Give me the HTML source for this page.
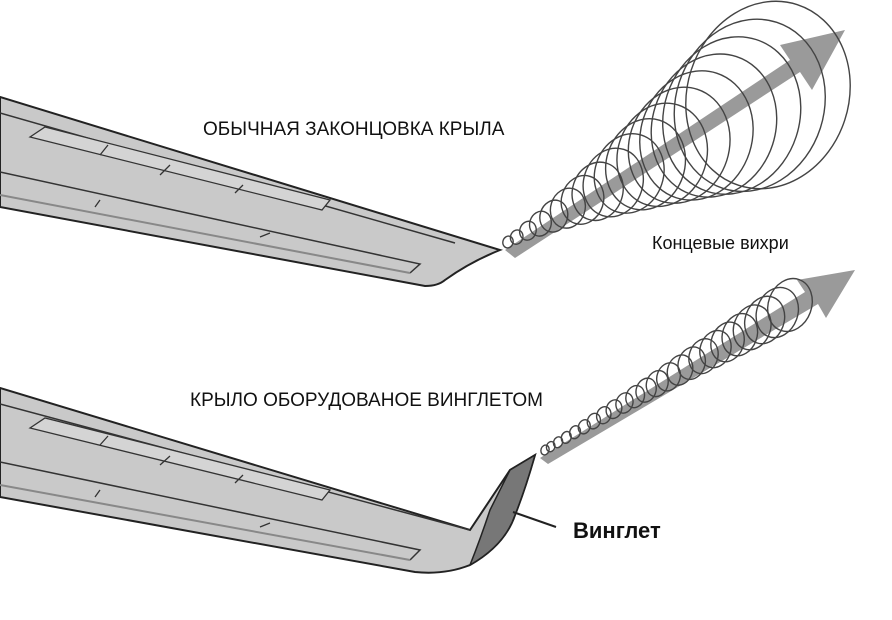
<!DOCTYPE html>
<html><head><meta charset="utf-8"><style>
html,body{margin:0;padding:0;background:#fff;}
svg{display:block}
text{font-family:"Liberation Sans","DejaVu Sans",sans-serif;fill:#111}
</style></head><body>
<svg id="s" width="892" height="620" viewBox="0 0 892 620" xmlns="http://www.w3.org/2000/svg">
<rect width="892" height="620" fill="#fff"/>
<!-- top wing -->
<path d="M0,97 L500,250 Q470,262 445,280 Q438,286 425,286 L0,207 Z" fill="#c9c9c9" stroke="#222" stroke-width="2"/>
<path d="M0,113 L455,243" stroke="#333" stroke-width="1.5" fill="none"/>
<path d="M0,172 L420,264 L410,273" stroke="#333" stroke-width="1.5" fill="none"/>
<path d="M0,195 L410,273" stroke="#888" stroke-width="2" fill="none"/>
<path d="M30,137 L45,127 L330,200 L322,210 Z" fill="#d4d4d4" stroke="#333" stroke-width="1.3"/>
<path d="M100,155 L108,145 M160,175 L170,165 M235,193 L243,185" stroke="#333" stroke-width="1.3"/>
<path d="M95,207 L100,200 M260,237 L270,233" stroke="#333" stroke-width="1.3"/>
<!-- bottom wing -->
<path d="M0,388 L470,530 Q490,500 510,470 L535,455 Q525,490 515,515 Q505,545 470,565 Q445,575 415,572 L0,497 Z" fill="#c9c9c9" stroke="#222" stroke-width="2"/>
<path d="M510,470 L535,455 Q525,490 515,515 Q505,545 470,565 Q480,540 490,510 Z" fill="#777" stroke="#222" stroke-width="1.5"/>
<path d="M0,404 L470,530" stroke="#333" stroke-width="1.5" fill="none"/>
<path d="M0,462 L420,550 L410,560" stroke="#333" stroke-width="1.5" fill="none"/>
<path d="M0,485 L410,560" stroke="#888" stroke-width="2" fill="none"/>
<path d="M30,428 L45,418 L330,490 L322,500 Z" fill="#d4d4d4" stroke="#333" stroke-width="1.3"/>
<path d="M100,445 L108,436 M160,465 L170,456 M235,483 L243,475" stroke="#333" stroke-width="1.3"/>
<path d="M95,497 L100,490 M260,527 L270,523" stroke="#333" stroke-width="1.3"/>
<path d="M513,512 L556,527" stroke="#222" stroke-width="2"/>
<!-- arrows -->
<polygon points="505,250 790,60 780,45 845,30 812,90 800,72 515,258" fill="#9a9a9a"/>
<polygon points="540,458 805,292 797,280 855,270 826,318 818,304 548,464" fill="#9a9a9a"/>
<g id="v1" fill="none" stroke="#444" stroke-width="1.4"></g>
<text x="203" y="135" font-size="19">ОБЫЧНАЯ ЗАКОНЦОВКА КРЫЛА</text>
<text x="652" y="249" font-size="18">Концевые вихри</text>
<text x="190" y="406" font-size="19">КРЫЛО ОБОРУДОВАНОЕ ВИНГЛЕТОМ</text>
<text x="573" y="538" font-size="22" font-weight="bold">Винглет</text>
</svg>
<script>
var g=document.getElementById('v1'),ns='http://www.w3.org/2000/svg';
function spiral(x0,y0,x1,y1,r0,r1,n,ang,asp){
 for(var i=0;i<n;i++){var t=i/(n-1);var e=document.createElementNS(ns,'ellipse');
 var tt=Math.pow(t,1.2);
 var cx=x0+(x1-x0)*tt, cy=y0+(y1-y0)*tt;
 e.setAttribute('cx',cx);e.setAttribute('cy',cy);
 var r=r0+(r1-r0)*Math.pow(t,1.5);
 e.setAttribute('rx',r*asp);e.setAttribute('ry',r);
 e.setAttribute('transform','rotate('+ang+' '+cx+' '+cy+')');
 g.appendChild(e);}
}
spiral(508,242,768,95,6,95,18,18,0.85);
spiral(545,450,790,305,5,27,24,20,0.8);
</script>
</body></html>
